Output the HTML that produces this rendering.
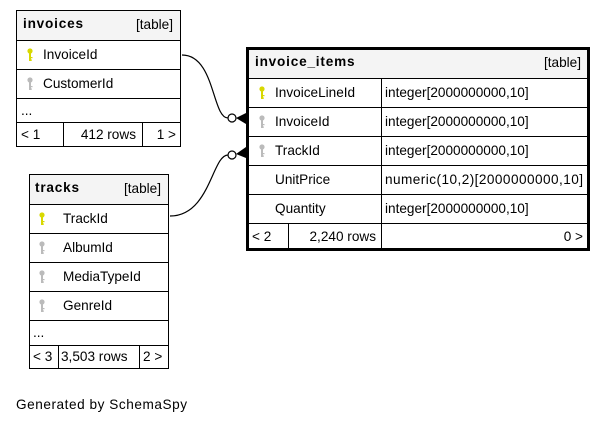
<!DOCTYPE html>
<html><head><meta charset="utf-8"><style>
html,body{margin:0;padding:0;background:#fff;width:608px;height:424px;overflow:hidden}
svg text{font-family:"Liberation Sans",sans-serif;font-size:13.6px;fill:#000}
.b{font-weight:bold;font-size:13.6px;letter-spacing:0.8px}
</style></head><body>
<svg width="608" height="424" viewBox="0 0 608 424" xmlns="http://www.w3.org/2000/svg">
<defs>
<g id="ky"><circle cx="0" cy="0" r="2.6"/><rect x="-1" y="0" width="2" height="10"/><rect x="0" y="6" width="2.5" height="1.2"/><rect x="0" y="8.5" width="2" height="1.2"/></g>
</defs>
<path d="M182,55 C215,55 212,118 228,118" fill="none" stroke="#000" stroke-width="1.2"/>
<circle cx="232" cy="118" r="4" fill="#fff" stroke="#000" stroke-width="1.2"/>
<path d="M236,118 L246,113 L246,124 Z" fill="#000"/>
<path d="M170,216 C210,216 212,155 228,155" fill="none" stroke="#000" stroke-width="1.2"/>
<circle cx="232" cy="155" r="4" fill="#fff" stroke="#000" stroke-width="1.2"/>
<path d="M236,154 L246,147 L246,158 Z" fill="#000"/>

<rect x="16.5" y="10.5" width="164" height="136" fill="#fff" stroke="#000"/>
<rect x="17" y="11" width="163" height="29" fill="#f4f4f4"/>
<g stroke="#000" stroke-width="1">
<line x1="16" y1="40.5" x2="181" y2="40.5"/><line x1="16" y1="69.5" x2="181" y2="69.5"/>
<line x1="16" y1="98.5" x2="181" y2="98.5"/><line x1="16" y1="122.5" x2="181" y2="122.5"/>
<line x1="63.5" y1="122" x2="63.5" y2="147"/><line x1="142.5" y1="122" x2="142.5" y2="147"/>
</g>
<text x="23" y="28" class="b">invoices</text><text x="173" y="29" text-anchor="end">[table]</text>
<use href="#ky" x="30" y="51" fill="#d8d800"/><text x="43" y="59">InvoiceId</text>
<use href="#ky" x="30" y="80" fill="#bbb"/><text x="43" y="88">CustomerId</text>
<text x="21" y="115">...</text>
<text x="21" y="139">&lt; 1</text><text x="136" y="139" text-anchor="end">412 rows</text><text x="176" y="139" text-anchor="end">1 &gt;</text>

<rect x="29.5" y="174.5" width="139" height="194" fill="#fff" stroke="#000"/>
<rect x="30" y="175" width="138" height="29" fill="#f4f4f4"/>
<g stroke="#000">
<line x1="29" y1="204.5" x2="169" y2="204.5"/><line x1="29" y1="233.5" x2="169" y2="233.5"/>
<line x1="29" y1="262.5" x2="169" y2="262.5"/><line x1="29" y1="291.5" x2="169" y2="291.5"/>
<line x1="29" y1="320.5" x2="169" y2="320.5"/><line x1="29" y1="345.5" x2="169" y2="345.5"/>
<line x1="58.5" y1="345" x2="58.5" y2="369"/><line x1="139.5" y1="345" x2="139.5" y2="369"/>
</g>
<text x="35" y="192" class="b">tracks</text><text x="161" y="193" text-anchor="end">[table]</text>
<use href="#ky" x="42" y="215" fill="#d8d800"/><text x="63" y="223">TrackId</text>
<use href="#ky" x="42" y="244" fill="#bbb"/><text x="63" y="252">AlbumId</text>
<use href="#ky" x="42" y="273" fill="#bbb"/><text x="63" y="281">MediaTypeId</text>
<use href="#ky" x="42" y="302" fill="#bbb"/><text x="63" y="310">GenreId</text>
<text x="33" y="337">...</text>
<text x="33" y="361">&lt; 3</text><text x="61" y="361">3,503 rows</text><text x="143" y="361">2 &gt;</text>

<rect x="247.5" y="48.5" width="341" height="201" fill="#fff" stroke="#000" stroke-width="3"/>
<rect x="249" y="50" width="338" height="28" fill="#f4f4f4"/>
<g stroke="#000">
<line x1="248" y1="78.5" x2="588" y2="78.5"/><line x1="248" y1="107.5" x2="588" y2="107.5"/>
<line x1="248" y1="136.5" x2="588" y2="136.5"/><line x1="248" y1="165.5" x2="588" y2="165.5"/>
<line x1="248" y1="194.5" x2="588" y2="194.5"/><line x1="248" y1="223.5" x2="588" y2="223.5"/>
<line x1="381.5" y1="78" x2="381.5" y2="249"/><line x1="288.5" y1="223" x2="288.5" y2="249"/>
</g>
<text x="255" y="66" class="b">invoice_items</text><text x="581" y="67" text-anchor="end">[table]</text>
<use href="#ky" x="262" y="89" fill="#d8d800"/><text x="275" y="97">InvoiceLineId</text>
<use href="#ky" x="262" y="118" fill="#bbb"/><text x="275" y="126">InvoiceId</text>
<use href="#ky" x="262" y="147" fill="#bbb"/><text x="275" y="155">TrackId</text>
<text x="275" y="184">UnitPrice</text>
<text x="275" y="213">Quantity</text>
<text x="385" y="97">integer[2000000000,10]</text>
<text x="385" y="126">integer[2000000000,10]</text>
<text x="385" y="155">integer[2000000000,10]</text>
<text x="385" y="184" textLength="198">numeric(10,2)[2000000000,10]</text>
<text x="385" y="213">integer[2000000000,10]</text>
<text x="252" y="241">&lt; 2</text><text x="376" y="241" text-anchor="end">2,240 rows</text><text x="583" y="241" text-anchor="end">0 &gt;</text>

<text x="16" y="409" textLength="171">Generated by SchemaSpy</text>
</svg>
</body></html>
